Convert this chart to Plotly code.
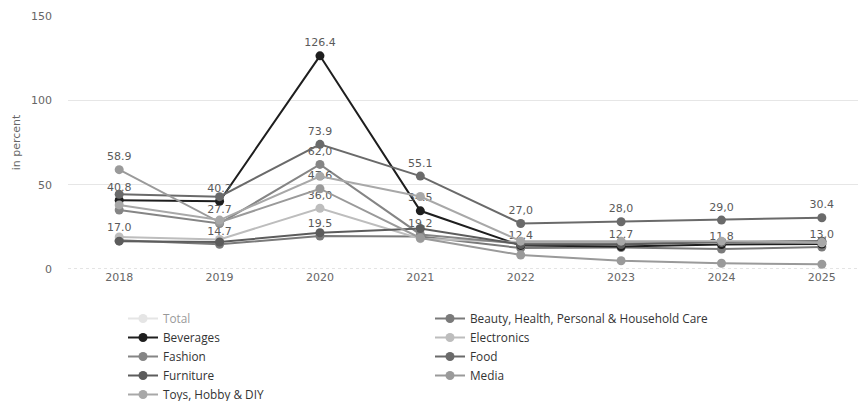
import plotly.graph_objects as go

years = [2018, 2019, 2020, 2021, 2022, 2023, 2024, 2025]

series_names = ["Total", "Beauty, Health, Personal & Household Care", "Beverages",
                "Electronics", "Fashion", "Food", "Furniture", "Media", "Toys, Hobby & DIY"]

total = [23.7, 20.3, 43.9, 26.4, 14.6, 14.2, 14.8, 15.3]
beauty = [17.0, 14.7, 19.5, 19.2, 12.4, 12.7, 11.8, 13.0]
beverages = [40.8, 40.2, 126.4, 34.5, 14.0, 13.3, 14.5, 14.8]
electronics = [19.0, 17.5, 36.0, 18.0, 16.0, 16.0, 16.0, 15.5]
fashion = [35.0, 27.0, 62.0, 20.5, 15.0, 15.0, 16.0, 16.5]
food = [44.3, 42.9, 73.9, 55.1, 27.0, 28.0, 29.0, 30.4]
furniture = [16.5, 16.0, 21.5, 24.0, 14.5, 14.5, 16.0, 16.5]
media = [58.9, 27.7, 47.6, 18.4, 8.3, 4.9, 3.4, 2.8]
toys = [38.0, 29.0, 55.0, 43.0, 16.5, 16.5, 16.5, 15.8]

# visible data labels (others hidden as overlapping in the original)
lab_total = ["", "", "", "", "", "", "", ""]
lab_beauty = ["17.0", "14.7", "19.5", "19.2", "12.4", "12.7", "11.8", "13,0"]
lab_beverages = ["40.8", "40.2", "126.4", "34.5", "", "", "", ""]
lab_electronics = ["", "", "36,0", "", "", "", "", ""]
lab_fashion = ["", "", "62,0", "", "", "", "", ""]
lab_food = ["", "", "73.9", "55.1", "27,0", "28,0", "29,0", "30.4"]
lab_furniture = ["", "", "", "", "", "", "", ""]
lab_media = ["58.9", "27.7", "47.6", "", "", "", "", ""]
lab_toys = ["", "", "", "", "", "", "", ""]

colors = ["#cccccc", "#7a7a7a", "#1e1e1e", "#bdbdbd", "#858585",
          "#6a6a6a", "#5c5c5c", "#9a9a9a", "#a8a8a8"]

values = [total, beauty, beverages, electronics, fashion, food, furniture, media, toys]
labels = [lab_total, lab_beauty, lab_beverages, lab_electronics, lab_fashion,
          lab_food, lab_furniture, lab_media, lab_toys]

fig = go.Figure()
for i, (name, vals, labs, col) in enumerate(zip(series_names, values, labels, colors)):
    fig.add_trace(go.Scatter(
        x=years, y=vals, name=name, mode="lines+markers+text",
        text=labs, textposition="top center",
        textfont=dict(family="DejaVu Sans", size=11, color="#5a5a5a"),
        line=dict(color=col, width=2),
        marker=dict(color=col, size=9),
        visible="legendonly" if i == 0 else True,
        cliponaxis=False,
    ))

fig.add_shape(type="line", xref="paper", yref="y", x0=0, x1=1, y0=0, y1=0,
              line=dict(color="#c8c8c8", width=1, dash="dot"), layer="below")

fig.update_layout(
    width=859, height=401,
    margin=dict(l=68, r=1, t=16, b=132),
    paper_bgcolor="white", plot_bgcolor="white",
    showlegend=True,
    legend=dict(orientation="h", xref="container", yref="container",
                x=123 / 859, xanchor="left", y=1 - 304 / 401, yanchor="top",
                entrywidth=262, tracegroupgap=0, itemsizing="trace", itemwidth=30,
                font=dict(family="Open Sans", size=11.8, color="#333333")),
    xaxis=dict(range=[2017.49, 2025.36], tickmode="array", tickvals=years,
               ticktext=[str(y) for y in years], showgrid=False, zeroline=False,
               showline=False, ticks="",
               tickfont=dict(family="DejaVu Sans", size=11, color="#666666")),
    yaxis=dict(range=[0, 150], tickvals=[0, 50, 100, 150], showgrid=True,
               gridcolor="#e6e6e6", gridwidth=1, zeroline=False, showline=False,
               ticklabelstandoff=15,
               tickfont=dict(family="DejaVu Sans", size=11, color="#666666"),
               title=dict(text="in percent", standoff=8,
                          font=dict(family="DejaVu Sans", size=11, color="#666666"))),
)

fig.write_html("out.html")
